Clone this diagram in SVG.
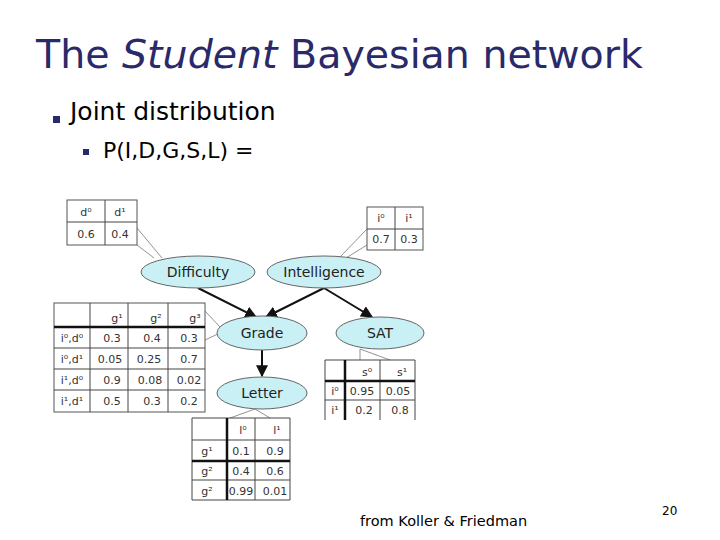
<svg xmlns="http://www.w3.org/2000/svg" width="720" height="540" viewBox="0 0 720 540">
<defs>
<marker id="ah" viewBox="0 0 10 10" refX="9" refY="5" markerWidth="6" markerHeight="6" orient="auto"><path d="M0,0 L10,5 L0,10 z" fill="#111"/></marker>
<style>
.t{font-family:"DejaVu Sans",Verdana,sans-serif;fill:#000}
.n{fill:#c9f0f5;stroke:#666;stroke-width:1}
.nl{font-family:"Comic Sans MS","DejaVu Sans",sans-serif;font-size:14px;fill:#222;text-anchor:middle}
.tb{fill:#fff;stroke:#555;stroke-width:1}
.g{stroke:#444;stroke-width:1;fill:none}
.k{stroke:#111;stroke-width:2.5;fill:none}
.c{font-family:"DejaVu Sans",sans-serif;font-size:11px;fill:#333;text-anchor:middle}
.e{stroke:#111;stroke-width:2;fill:none;marker-end:url(#ah)}
.co{stroke:#777;stroke-width:0.8;fill:none}
</style>
</defs>
<rect width="720" height="540" fill="#fff"/>
<text x="36" y="68" class="t" style="font-size:39.5px;fill:#2a2a6a">The <tspan font-style="italic">Student</tspan> Bayesian network</text>
<rect x="53" y="116" width="7" height="7" fill="#2a2a6a"/>
<text x="70" y="120" class="t" style="font-size:25px">Joint distribution</text>
<rect x="83" y="149" width="6" height="6" fill="#2a2a6a"/>
<text x="103" y="158" class="t" style="font-size:22px">P(I,D,G,S,L) =</text>

<g id="connectors">
<path class="co" d="M137,228 L162,258 M137,245 L154,258"/>
<path class="co" d="M367,229 L340,257 M367,245 L346,258"/>
<path class="co" d="M205,311 L220,327 M205,340 L220,333"/>
<path class="co" d="M360,349 L360,360 M360,349 L390,360"/>
<path class="co" d="M255,409 L230,418 M255,409 L270,418"/>
<path class="e" d="M198,288 L256,317"/>
<path class="e" d="M324,288 L266,317"/>
<path class="e" d="M324,288 L372,317"/>
<path class="e" d="M262,350 L262,376"/>
</g>

<g id="difficulty"><ellipse class="n" cx="198" cy="272" rx="57" ry="16"/><text class="nl" x="198" y="277">Difficulty</text></g>
<g id="intelligence"><ellipse class="n" cx="324" cy="272" rx="57" ry="16"/><text class="nl" x="324" y="277">Intelligence</text></g>
<g id="grade"><ellipse class="n" cx="262" cy="333" rx="45" ry="17"/><text class="nl" x="262" y="338">Grade</text></g>
<g id="sat"><ellipse class="n" cx="380" cy="333" rx="44" ry="16"/><text class="nl" x="380" y="338">SAT</text></g>
<g id="letter"><ellipse class="n" cx="262" cy="393" rx="45" ry="16"/><text class="nl" x="262" y="398">Letter</text></g>

<g id="cpd-d">
<rect class="tb" x="67" y="200" width="70" height="45"/>
<path class="g" d="M105,200 V245 M67,222 H137"/>
<text class="c" x="86" y="216">d⁰</text><text class="c" x="120" y="216">d¹</text>
<text class="c" x="86" y="238">0.6</text><text class="c" x="120" y="238">0.4</text>
</g>
<g id="cpd-i">
<rect class="tb" x="367" y="207" width="56" height="43"/>
<path class="g" d="M395,207 V250 M367,229 H423"/>
<text class="c" x="381" y="222">i⁰</text><text class="c" x="409" y="222">i¹</text>
<text class="c" x="381" y="243">0.7</text><text class="c" x="409" y="243">0.3</text>
</g>
<g id="cpd-g">
<rect class="tb" x="54" y="303" width="151" height="109"/>
<path class="g" d="M90,303 V412 M128,303 V412 M168,303 V412 M54,348 H205 M54,369 H205 M54,390 H205"/>
<path class="k" d="M54,327 H205"/>
<text class="c" x="117" y="322">g¹</text><text class="c" x="156" y="322">g²</text><text class="c" x="195" y="322">g³</text>
<text class="c" x="72" y="342">i⁰,d⁰</text><text class="c" x="112" y="342">0.3</text><text class="c" x="152" y="342">0.4</text><text class="c" x="189" y="342">0.3</text>
<text class="c" x="72" y="363">i⁰,d¹</text><text class="c" x="110" y="363">0.05</text><text class="c" x="149" y="363">0.25</text><text class="c" x="189" y="363">0.7</text>
<text class="c" x="72" y="384">i¹,d⁰</text><text class="c" x="112" y="384">0.9</text><text class="c" x="150" y="384">0.08</text><text class="c" x="189" y="384">0.02</text>
<text class="c" x="72" y="405">i¹,d¹</text><text class="c" x="112" y="405">0.5</text><text class="c" x="152" y="405">0.3</text><text class="c" x="189" y="405">0.2</text>
</g>
<g id="cpd-s">
<path class="g" d="M325,360 H415 M325,400 H415 M380,360 V420 M325,360 V420 M415,360 V420"/>
<path class="k" d="M345,360 V420 M325,381 H415"/>
<text class="c" x="367" y="376">s⁰</text><text class="c" x="402" y="376">s¹</text>
<text class="c" x="335" y="395">i⁰</text><text class="c" x="362" y="395">0.95</text><text class="c" x="398" y="395">0.05</text>
<text class="c" x="335" y="414">i¹</text><text class="c" x="364" y="414">0.2</text><text class="c" x="400" y="414">0.8</text>
</g>
<g id="cpd-l">
<path class="g" d="M192,418 H290 M192,480 H290 M192,500 H290 M192,418 V500 M290,418 V500 M255,418 V500 M192,440 H290"/>
<path class="k" d="M227,418 V500 M192,461 H290"/>
<text class="c" x="243" y="434">l⁰</text><text class="c" x="277" y="434">l¹</text>
<text class="c" x="207" y="455">g¹</text><text class="c" x="241" y="455">0.1</text><text class="c" x="275" y="455">0.9</text>
<text class="c" x="207" y="475">g²</text><text class="c" x="241" y="475">0.4</text><text class="c" x="275" y="475">0.6</text>
<text class="c" x="207" y="495">g²</text><text class="c" x="241" y="495">0.99</text><text class="c" x="275" y="495">0.01</text>
</g>

<text x="360" y="526" class="t" style="font-size:14.5px">from Koller &amp; Friedman</text>
<text x="662" y="515" class="t" style="font-size:12px">20</text>
</svg>
